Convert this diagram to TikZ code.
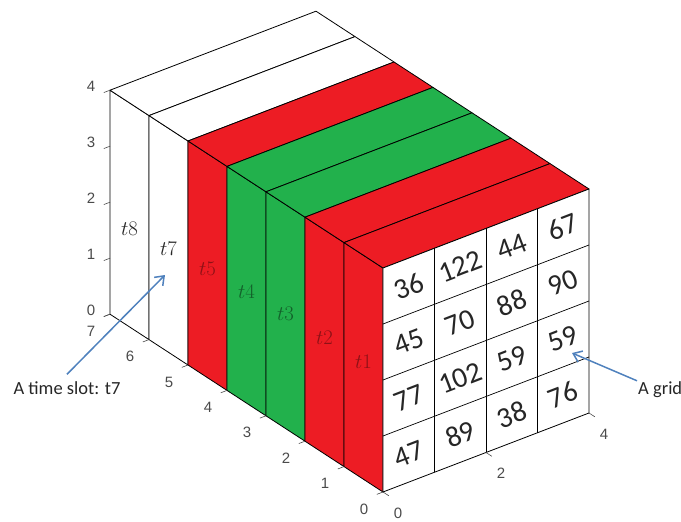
\documentclass[tikz,border=0pt]{standalone}
\usepackage{fontspec}
\setsansfont{Carlito}
\newfontfamily\axisfont{Liberation Sans}
\usetikzlibrary{arrows.meta}
\definecolor{slabred}{HTML}{ED1C24}
\definecolor{slabgreen}{HTML}{22B14C}
\definecolor{callout}{HTML}{4F81BD}
\definecolor{ink}{HTML}{262626}
\definecolor{tickgray}{HTML}{4A4A4A}
\tikzset{
  slab/.style={draw=black, line width=0.8pt, line join=round},
  gridline/.style={draw=black, line width=0.7pt},
  tickmark/.style={draw=tickgray, line width=0.6pt},
  cellnum/.style={font=\sffamily\fontsize{29}{29}\selectfont, text=ink,
                  rotate=21, inner sep=0pt},
  slot/.style={font=\fontsize{22}{22}\selectfont, inner sep=0pt},
  ticklbl/.style={font=\axisfont\fontsize{15}{15}\selectfont, text=tickgray, inner sep=0pt},
  note/.style={font=\sffamily\fontsize{18.5}{18.5}\selectfont, text=ink, inner sep=1pt},
  pointer/.style={-{Straight Barb[length=8pt, width=12pt]}, draw=callout, line width=1.5pt}
}

\begin{document}
\begin{tikzpicture}[x={(51.5pt,19.75pt)}, y={(-39pt,25.4pt)}, z={(0pt,56pt)}]
  \useasboundingbox (-383pt,-30pt) rectangle (298pt,492pt);
  \clip (-383pt,-30pt) rectangle (298pt,492pt);
  % slabs, back to front: side face and top face
  \foreach \k/\kn/\col in {6/7/white, 5/6/white, 4/5/slabred, 3/4/slabgreen,
                          2/3/slabgreen, 1/2/slabred, 0/1/slabred}{
    \filldraw[slab, fill=\col] (0,\k,0) -- (0,\kn,0) -- (0,\kn,4) -- (0,\k,4) -- cycle;
    \filldraw[slab, fill=\col] (0,\k,4) -- (4,\k,4) -- (4,\kn,4) -- (0,\kn,4) -- cycle;
  }
  % front face of t1: the grid
  \filldraw[slab, fill=white] (0,0,0) -- (4,0,0) -- (4,0,4) -- (0,0,4) -- cycle;
  \foreach \i in {1,2,3}{
    \draw[gridline] (\i,0,0) -- (\i,0,4);
    \draw[gridline] (0,0,\i) -- (4,0,\i);
  }
  \foreach \v [count=\i] in {36,122,44,67} \node[cellnum] (rowa\i) at (\i-0.5,0,3.5) {\v};
  \foreach \v [count=\i] in {45,70,88,90}  \node[cellnum] (rowb\i) at (\i-0.5,0,2.5) {\v};
  \foreach \v [count=\i] in {77,102,59,59} \node[cellnum] (rowc\i) at (\i-0.5,0,1.5) {\v};
  \foreach \v [count=\i] in {47,89,38,76}  \node[cellnum] (rowd\i) at (\i-0.5,0,0.5) {\v};
  % time slot labels
  \foreach \k/\z/\tc/\lbl in {6/1.75/ink/t8, 5/1.85/ink/t7, 4/1.95/slabred!60!black/t5,
                              3/1.98/slabgreen!55!black/t4, 2/2.05/slabgreen!55!black/t3,
                              1/2.07/slabred!60!black/t2, 0/2.1/slabred!60!black/t1}
    \node[slot, text=\tc] (lbl\lbl) at (0,\k+0.5,\z) {$\lbl$};
  % axes
  \foreach \z in {0,...,4}{
    \draw[tickmark] (0,7,\z) -- ++(-0.12,0,0);
    \node[ticklbl] (ztick\z) at ([shift={(-19pt,4pt)}]0,7,\z) {\z};
  }
  \foreach \k in {0,...,7}{
    \draw[tickmark] (0,\k,0) -- ++(-0.12,0,0);
    \node[ticklbl] (ttick\k) at ([shift={(-19pt,-17pt)}]0,\k,0) {\k};
  }
  \foreach \i in {0,2,4}{
    \draw[tickmark] (\i,0,0) -- ++(0,-0.15,0);
    \node[ticklbl] (gtick\i) at ([shift={(15pt,-21pt)}]\i,0,0) {\i};
  }
  % call-outs
  \node[note] (slotnote) at (-316pt,104pt) {A time slot: t7};
  \coordinate (slottip) at (-218pt,217pt);
  \draw[pointer] ([yshift=6pt]slotnote.north) -- (slottip);
  \node[note, anchor=west] (gridnote) at (254pt,102pt) {A grid};
  \coordinate (gridtip) at (189pt,139pt);
  \draw[pointer] (gridnote.north west) -- (gridtip);
\end{tikzpicture}
\end{document}
